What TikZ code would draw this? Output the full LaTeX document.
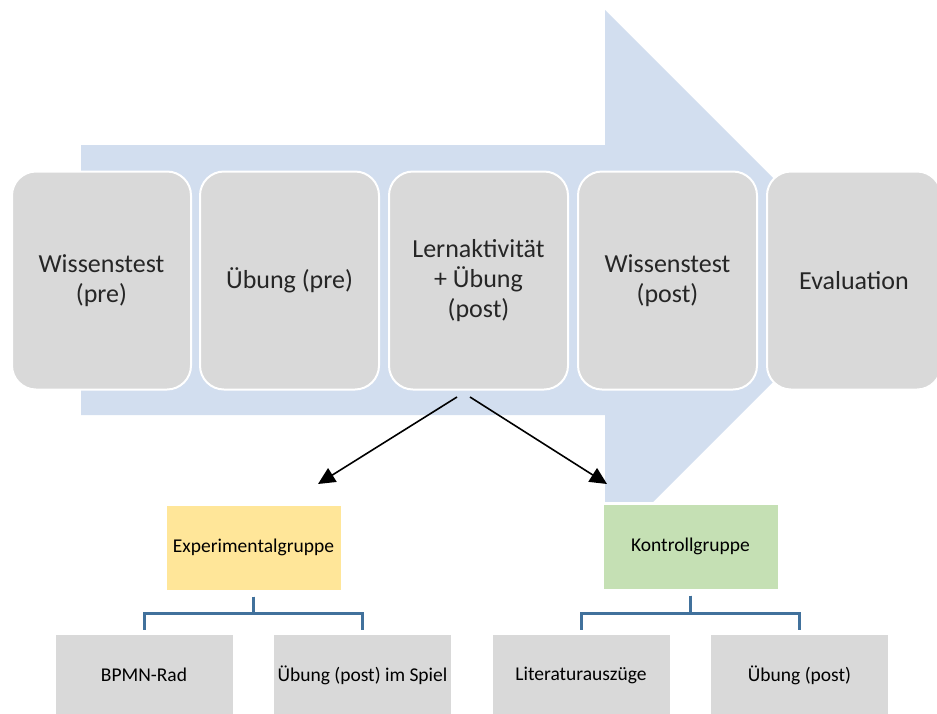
\documentclass[tikz,border=0pt]{standalone}
\usepackage{fontspec}
\setmainfont{Carlito}
\usetikzlibrary{arrows.meta}

\definecolor{pfeilblau}{RGB}{210,222,239}
\definecolor{kastengrau}{RGB}{217,217,217}
\definecolor{expgelb}{RGB}{255,230,153}
\definecolor{kontrollgruen}{RGB}{197,224,180}
\definecolor{klammerblau}{RGB}{65,113,156}
\definecolor{schrift}{RGB}{38,38,38}

\tikzset{
  phase/.style={draw=white, line width=2pt, fill=kastengrau, rounded corners=24pt,
    minimum width=179pt, minimum height=218pt, inner sep=0pt, align=center,
    text=schrift, font=\fontsize{26}{30}\selectfont},
  gruppe/.style={draw=white, line width=3pt, minimum width=177pt, minimum height=87pt,
    inner sep=0pt, font=\fontsize{19.5}{23}\selectfont},
  teil/.style={fill=kastengrau, minimum width=177pt, minimum height=80pt,
    inner sep=0pt, font=\fontsize{19.5}{23}\selectfont},
  klammer/.style={draw=klammerblau, line width=3pt, shorten <=4pt, shorten >=5pt},
  pfeil/.style={draw=black, line width=1.6pt, -{Triangle[length=17pt,width=16pt]}}
}

\begin{document}
\begin{tikzpicture}[x=1pt,y=-1pt]

  \useasboundingbox (0,0) rectangle (937,713);
  \clip (0,0) rectangle (937,713);

  % Prozesspfeil im Hintergrund
  \fill[pfeilblau] (81,145) -- (605,145) -- (605,10) -- (875,280)
                   -- (605,550) -- (605,415) -- (81,415) -- cycle;

  % Phasen
  \node[phase] (wtpre)  at (101.5,280.5) {Wissenstest\\(pre)};
  \node[phase] (uebpre) at (289.5,280.5) {Übung (pre)};
  \node[phase] (lern)   at (478.5,280.5) {Lernaktivität\\+ Übung\\(post)};
  \node[phase] (wtpost) at (667.5,280.5) {Wissenstest\\(post)};
  \node[phase, minimum width=174pt] (eval) at (854,280.5) {Evaluation};

  % Gruppen
  \node[gruppe, fill=expgelb] (exp) at (253.5,547.5) {Experimentalgruppe};
  \node[gruppe, fill=kontrollgruen] (kontr) at (690.5,546.5) {Kontrollgruppe};

  % Inhalte der Gruppen
  \node[teil] (bpmn)   at (144,675) {BPMN-Rad};
  \node[teil] (spiel)  at (362.5,675) {Übung (post) im Spiel};
  \node[teil] (lit)    at (581,675) {Literaturauszüge};
  \node[teil] (uebpost) at (799.5,675) {Übung (post)};

  % Pfeile zu den Gruppen
  \coordinate (lernL) at (457,397);
  \coordinate (lernR) at (470,397);
  \coordinate (expZ) at (318,484);
  \coordinate (kontrZ) at (607,484);
  \draw[pfeil] (lernL) -- (expZ);
  \draw[pfeil] (lernR) -- (kontrZ);

  % Klammern
  \draw[klammer] (exp.south) -- ++(0,21) -| (bpmn.north);
  \draw[klammer] (exp.south) -- ++(0,21) -| (spiel.north);
  \draw[klammer] (kontr.south) -- ++(0,22) -| (lit.north);
  \draw[klammer] (kontr.south) -- ++(0,22) -| (uebpost.north);

\end{tikzpicture}
\end{document}
